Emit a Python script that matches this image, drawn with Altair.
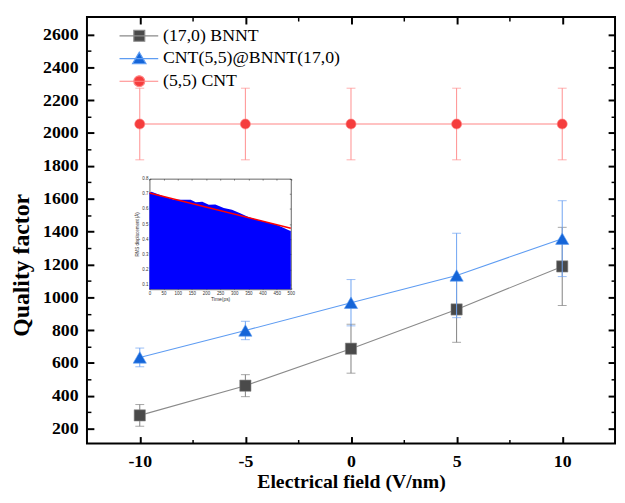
import altair as alt
import pandas as pd

# ---------------- data ----------------
field_vals = [-10, -5, 0, 5, 10]
series_labels = ["(17,0) BNNT", "CNT(5,5)@BNNT(17,0)", "(5,5) CNT"]

bnnt_q = [281, 462, 687, 926, 1188]
bnnt_err = [66, 67, 149, 200, 238]
hybrid_q = [634, 798, 967, 1133, 1357]
hybrid_err = [57, 56, 141, 257, 231]
cnt_q = [2055, 2055, 2055, 2055, 2055]
cnt_err = [218, 218, 218, 218, 218]

x_major = [-10, -5, 0, 5, 10]
x_minor = [-7.5, -2.5, 2.5, 7.5]
y_major = [200, 400, 600, 800, 1000, 1200, 1400, 1600, 1800, 2000, 2200, 2400, 2600]
y_minor = [300, 500, 700, 900, 1100, 1300, 1500, 1700, 1900, 2100, 2300, 2500]

# inset: RMS displacement envelope and fitted decay
inset_t = [0, 7, 54, 88, 123, 146, 164, 187, 210, 233, 263, 292, 321, 350, 379, 413, 448, 472, 493, 500]
inset_env = [0.705, 0.713, 0.681, 0.660, 0.660, 0.661, 0.644, 0.648, 0.627, 0.629,
             0.607, 0.594, 0.572, 0.546, 0.529, 0.514, 0.497, 0.477, 0.460, 0.455]
fit_t = [0, 500]
fit_v = [0.705, 0.473]
inset_x_ticks = [0, 50, 100, 150, 200, 250, 300, 350, 400, 450, 500]
inset_y_ticks = [0.1, 0.2, 0.3, 0.4, 0.5, 0.6, 0.7, 0.8]

# ---------------- styling ----------------
SERIF = "Liberation Serif"
W, H = 535, 432
X_DOM = [-12.5, 12.5]
Y_DOM = [110, 2706]

line_colors = ["#8a8a8a", "#5e9cf2", "#ff8585"]
marker_colors = ["#4a4a4a", "#1565d8", "#f53d3d"]
err_colors = ["#808080", "#6ea3f2", "#ff8f8f"]
shapes = ["square", "triangle-up", "circle"]
sizes = [130, 180, 105]
legend_paths = [
    "M-2.5,0H2.4M-0.69,-0.69H0.69V0.69H-0.69Z",
    "M-2.5,0H2.4M0,-0.8L0.85,0.65L-0.85,0.65Z",
    "M-2.5,0H2.4M-0.69,0A0.69,0.69,0,1,0,0.69,0A0.69,0.69,0,1,0,-0.69,0Z",
]
PLAIN = "'' + datum.value"


def xs():
    return alt.Scale(domain=X_DOM, nice=False, zero=False)


def ys():
    return alt.Scale(domain=Y_DOM, nice=False, zero=False)


label_x_axis = alt.Axis(
    orient="bottom", values=x_major, ticks=False, domain=False, grid=False,
    labelExpr=PLAIN,
    labelFont=SERIF, labelFontSize=18, labelFontWeight="bold", labelColor="black",
    labelPadding=9, labelFlush=False,
    title="Electrical field (V/nm)", titleFont=SERIF, titleFontSize=20,
    titleFontWeight="bold", titleColor="black", titleBaseline="alphabetic", titleY=45,
)
label_y_axis = alt.Axis(
    orient="left", values=y_major, ticks=False, domain=False, grid=False,
    labelExpr=PLAIN,
    labelFont=SERIF, labelFontSize=18, labelFontWeight="bold", labelColor="black",
    labelPadding=9, labelFlush=False,
    title="Quality factor", titleFont=SERIF, titleFontSize=24, titleFontWeight="bold",
    titleColor="black", titleAngle=270, titleX=-66, titleY=251, titleAlign="center",
    titleBaseline="middle",
)


def tick_axis(orient, values, size, width):
    return alt.Axis(
        orient=orient, values=values, labels=False, domain=False, grid=False, title=None,
        ticks=True, tickSize={"expr": str(-size)}, tickWidth=width, tickColor="black",
    )


axes_plan = {
    (0, "line"): (label_x_axis, label_y_axis),
    (1, "line"): (tick_axis("bottom", x_major, 7, 2), tick_axis("left", y_major, 7, 2)),
    (2, "line"): (tick_axis("bottom", x_minor, 4, 1.5), tick_axis("left", y_minor, 4, 1.5)),
    (0, "rule"): (tick_axis("top", x_major, 7, 2), tick_axis("right", y_major, 7, 2)),
    (1, "rule"): (tick_axis("top", x_minor, 4, 1.5), tick_axis("right", y_minor, 4, 1.5)),
}

layers = []
all_q = [bnnt_q, hybrid_q, cnt_q]
all_e = [bnnt_err, hybrid_err, cnt_err]
for i in range(3):
    df = pd.DataFrame({
        "field": field_vals,
        "q": all_q[i],
        "lo": [q - e for q, e in zip(all_q[i], all_e[i])],
        "hi": [q + e for q, e in zip(all_q[i], all_e[i])],
    })
    base = alt.Chart(df)

    def ax(kind, which):
        a = axes_plan.get((i, kind))
        return a[which] if a else None

    # error bars
    xa, ya = ax("rule", 0), ax("rule", 1)
    layers.append(
        base.mark_rule(color=err_colors[i], strokeWidth=1).encode(
            x=alt.X("field:Q", scale=xs(), axis=xa),
            y=alt.Y("lo:Q", scale=ys(), axis=ya),
            y2="hi:Q",
        )
    )
    layers.append(
        base.transform_fold(["lo", "hi"], as_=["end", "val"]).mark_tick(
            orient="horizontal", size=9, thickness=1, color=err_colors[i]
        ).encode(
            x=alt.X("field:Q", scale=xs(), axis=None),
            y=alt.Y("val:Q", scale=ys(), axis=None),
        )
    )
    # connecting line
    xa, ya = ax("line", 0), ax("line", 1)
    layers.append(
        base.mark_line(color=line_colors[i], strokeWidth=1.1).encode(
            x=alt.X("field:Q", scale=xs(), axis=xa),
            y=alt.Y("q:Q", scale=ys(), axis=ya),
        )
    )
    # markers
    layers.append(
        base.mark_point(
            shape=shapes[i], filled=True, size=sizes[i], fill=marker_colors[i],
            stroke=line_colors[i], strokeWidth=0.6, opacity=1,
        ).encode(
            x=alt.X("field:Q", scale=xs(), axis=None),
            y=alt.Y("q:Q", scale=ys(), axis=None),
        )
    )

# legend carrier (no visible marks; legend built from explicit domains)
legend_df = pd.DataFrame({"series": series_labels})
layers.append(
    alt.Chart(legend_df).transform_filter("false").mark_point(
        filled=False, opacity=1, strokeWidth=1.2
    ).encode(
        color=alt.Color("series:N", scale=alt.Scale(domain=series_labels, range=line_colors),
                        legend=alt.Legend(title=None)),
        fill=alt.Fill("series:N", scale=alt.Scale(domain=series_labels, range=marker_colors),
                      legend=alt.Legend(title=None)),
        shape=alt.Shape("series:N", scale=alt.Scale(domain=series_labels, range=legend_paths),
                        legend=alt.Legend(title=None)),
    )
)

# ---------------- inset ----------------
IX_RANGE = [63.3, 206.5]
IY_RANGE = [275.7, 163.7]
IY_DOM = [0.07, 0.8]


def ixs():
    return alt.Scale(domain=[0, 500], range=IX_RANGE, nice=False, zero=False)


def iys():
    return alt.Scale(domain=IY_DOM, range=IY_RANGE, nice=False, zero=False)


SANS = "Liberation Sans"
inset_common = dict(grid=False, domainColor="#222222", domainWidth=0.7, tickColor="#222222",
                    tickWidth=0.5, tickSize={"expr": "-1.5"})
inset_bottom = alt.Axis(
    orient="bottom", offset={"expr": str(-(H - IY_RANGE[0]))}, values=inset_x_ticks,
    labelFont=SANS, labelFontSize=4.5, labelColor="#333333", labelPadding=3, labelFlush=False,
    title="Time(ps)", titleFont=SANS, titleFontSize=5, titleFontWeight="normal",
    titleColor="#333333", titlePadding=1, **inset_common,
)
inset_left = alt.Axis(
    orient="left", offset={"expr": str(-IX_RANGE[0])}, values=inset_y_ticks, format=".1f",
    labelFont=SANS, labelFontSize=4.5, labelColor="#333333", labelPadding=3, labelFlush=False,
    title="RMS displacement (Å)", titleFont=SANS, titleFontSize=4.5, titleFontWeight="normal",
    titleColor="#333333", titlePadding=2, **inset_common,
)
inset_top = alt.Axis(
    orient="top", offset={"expr": str(-IY_RANGE[1])}, values=inset_x_ticks, labels=False,
    title=None, **inset_common,
)
inset_right = alt.Axis(
    orient="right", offset={"expr": str(-(W - IX_RANGE[1]))}, values=inset_y_ticks,
    labels=False, title=None, **inset_common,
)

area_df = pd.DataFrame({"t": inset_t, "v": inset_env})
layers.append(
    alt.Chart(area_df).mark_area(color="#0000ff", opacity=1).encode(
        x=alt.X("t:Q", scale=ixs(), axis=inset_bottom),
        y=alt.Y("v:Q", scale=iys(), axis=inset_left),
        y2=alt.datum(IY_DOM[0]),
    )
)
fit_df = pd.DataFrame({"t": fit_t, "v": fit_v})
layers.append(
    alt.Chart(fit_df).mark_line(color="#ff0000", strokeWidth=1.6).encode(
        x=alt.X("t:Q", scale=ixs(), axis=inset_top),
        y=alt.Y("v:Q", scale=iys(), axis=inset_right),
    )
)

chart = (
    alt.layer(*layers)
    .resolve_scale(x="independent", y="independent")
    .properties(
        width=W, height=H,
        autosize=alt.AutoSizeParams(type="none"),
        padding={"left": 80, "top": 6, "right": 2, "bottom": 49},
        background="white",
    )
    .configure_view(stroke="black", strokeWidth=2)
    .configure_axis(grid=False)
    .configure_legend(
        orient="none", legendX=44, legendY=10, padding=0, rowPadding=5,
        symbolSize=256, symbolStrokeWidth=1.2, labelFont=SERIF, labelFontSize=18,
        labelColor="black", labelOffset=15, labelLimit=400,
    )
)

chart.save("out.html", embed_options={"renderer": "svg", "actions": False})
